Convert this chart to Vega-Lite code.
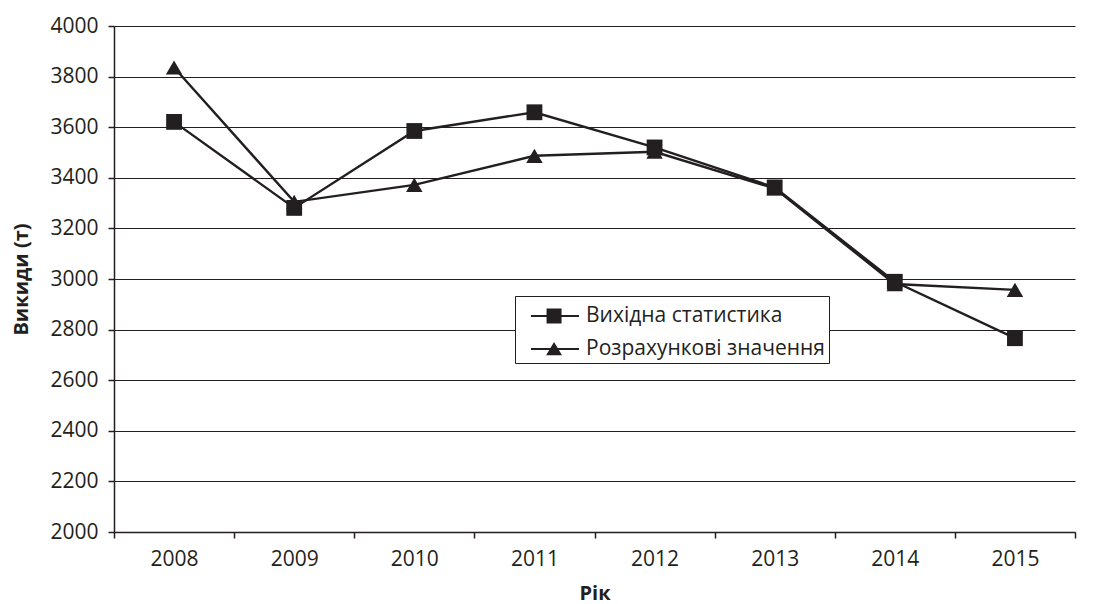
{
  "$schema": "https://vega.github.io/schema/vega-lite/v6.json",
  "width": 961,
  "height": 506,
  "autosize": {"type": "none"},
  "padding": {"left": 114, "top": 26, "right": 19, "bottom": 72},
  "background": "white",
  "config": {
    "font": "Open Sans",
    "view": {"stroke": null},
    "axis": {
      "labelFont": "Open Sans",
      "labelFontSize": 21,
      "labelColor": "#231f20",
      "titleFont": "Open Sans",
      "titleFontSize": 20,
      "titleFontWeight": "bold",
      "titleColor": "#231f20",
      "domainColor": "#231f20",
      "domainWidth": 1.5,
      "tickColor": "#231f20",
      "tickWidth": 1.5,
      "tickSize": 6
    }
  },
  "data": {
    "values": [
      {"year": "2008", "series": "Вихідна статистика", "value": 3621},
      {"year": "2009", "series": "Вихідна статистика", "value": 3281},
      {"year": "2010", "series": "Вихідна статистика", "value": 3585},
      {"year": "2011", "series": "Вихідна статистика", "value": 3659},
      {"year": "2012", "series": "Вихідна статистика", "value": 3520},
      {"year": "2013", "series": "Вихідна статистика", "value": 3362},
      {"year": "2014", "series": "Вихідна статистика", "value": 2989},
      {"year": "2015", "series": "Вихідна статистика", "value": 2766},
      {"year": "2008", "series": "Розрахункові значення", "value": 3836},
      {"year": "2009", "series": "Розрахункові значення", "value": 3305},
      {"year": "2010", "series": "Розрахункові значення", "value": 3372},
      {"year": "2011", "series": "Розрахункові значення", "value": 3487},
      {"year": "2012", "series": "Розрахункові значення", "value": 3503},
      {"year": "2013", "series": "Розрахункові значення", "value": 3358},
      {"year": "2014", "series": "Розрахункові значення", "value": 2980},
      {"year": "2015", "series": "Розрахункові значення", "value": 2957}
    ]
  },
  "encoding": {
    "x": {
      "field": "year",
      "type": "ordinal",
      "title": "Рік",
      "scale": {"type": "band", "paddingInner": 0, "paddingOuter": 0},
      "axis": {"labelAngle": 0, "tickBand": "extent", "labelPadding": 10, "titlePadding": 14, "grid": false}
    },
    "y": {
      "field": "value",
      "type": "quantitative",
      "title": "Викиди (т)",
      "scale": {"domain": [2000, 4000], "nice": false, "zero": false},
      "axis": {"values": [2000, 2200, 2400, 2600, 2800, 3000, 3200, 3400, 3600, 3800, 4000], "format": "d", "labelPadding": 10, "titlePadding": 18, "grid": true, "gridColor": "#231f20", "gridWidth": 1.2}
    }
  },
  "layer": [
    {
      "mark": {"type": "line", "strokeWidth": 2.4},
      "encoding": {
        "detail": {"field": "series"},
        "color": {"value": "#231f20"}
      }
    },
    {
      "transform": [{"filter": "datum.series === 'Вихідна статистика'"}],
      "mark": {"type": "point", "shape": "square", "filled": true, "opacity": 1, "size": 250, "color": "#231f20"}
    },
    {
      "transform": [{"filter": "datum.series === 'Розрахункові значення'"}],
      "mark": {"type": "point", "shape": "triangle-up", "filled": true, "opacity": 1, "size": 270, "color": "#231f20"}
    },
    {
      "transform": [{"filter": "datum.value < 0"}],
      "mark": {"type": "point", "filled": true, "opacity": 1, "color": "#231f20"},
      "encoding": {
        "shape": {
          "field": "series",
          "type": "nominal",
          "scale": {"domain": ["Вихідна статистика", "Розрахункові значення"], "range": ["M-0.27,-0.065H2.93V0.065H-0.27ZM0.77,-0.5H1.77V0.5H0.77Z", "M-0.27,-0.065H2.93V0.065H-0.27ZM1.27,-0.47L1.8,0.42L0.74,0.42Z"]},
          "legend": {
            "title": null,
            "orient": "none",
            "legendX": 401,
            "legendY": 270,
            "padding": 4,
            "fillColor": "white",
            "strokeColor": "#231f20",
            "labelFont": "Open Sans",
            "labelFontSize": 21,
            "labelColor": "#231f20",
            "symbolSize": 900,
            "labelOffset": 35,
            "rowPadding": 6,
            "labelLimit": 400,
            "symbolFillColor": "#231f20",
            "symbolOpacity": 1
          }
        }
      }
    }
  ]
}
